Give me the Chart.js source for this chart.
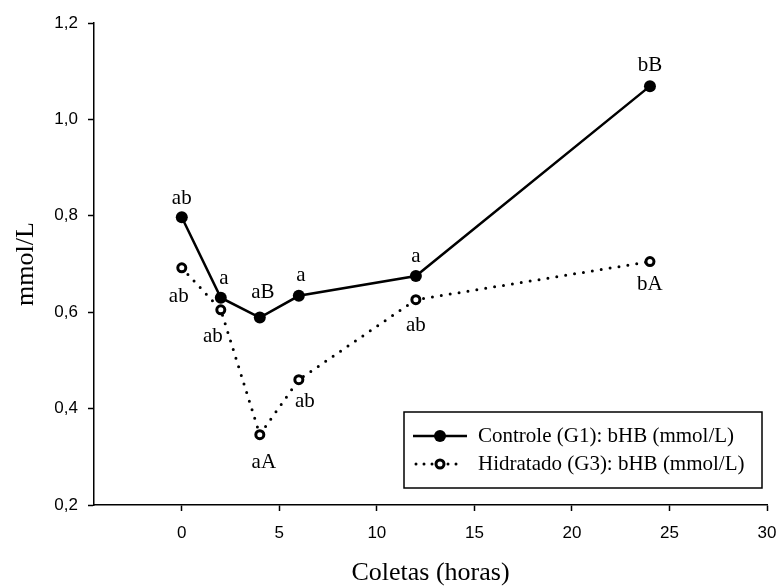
<!DOCTYPE html>
<html>
<head>
<meta charset="utf-8">
<script src="https://cdn.jsdelivr.net/npm/chart.js@4.4.0/dist/chart.umd.min.js"></script>
<style>
  html, body { margin: 0; padding: 0; background: #fff; }
  #wrap { width: 778px; height: 586px; }
</style>
</head>
<body>
<div id="wrap"><canvas id="chart" width="778" height="586"></canvas></div>
<script>
// data
const horas = [0, 2, 4, 6, 12, 24];
const controle = [0.797, 0.630, 0.589, 0.634, 0.675, 1.069];
const hidratado = [0.692, 0.605, 0.346, 0.460, 0.626, 0.705];
const letrasControle = ['ab', 'a', 'aB', 'a', 'a', 'bB'];
const letrasHidratado = ['ab', 'ab', 'aA', 'ab', 'ab', 'bA'];
const xTicks = [0, 5, 10, 15, 20, 25, 30];
const yTicks = [0.2, 0.4, 0.6, 0.8, 1.0, 1.2];
const legendLabels = ['Controle (G1): bHB (mmol/L)', 'Hidratado (G3): bHB (mmol/L)'];

// label nudges (pixels) around each point
const offControle = [[0, -19], [3, -19], [3, -25], [2, -20], [0, -20], [0, -21]];
const offHidratado = [[-3, 29], [-8, 27], [4, 28], [6, 22], [0, 26], [0, 23]];

const serif = '"Liberation Serif", "Times New Roman", serif';
const sans = '"Liberation Sans", Arial, sans-serif';

//draws the significance letters next to each marker
const letterPlugin = {
  id: 'letters',
  afterDatasetsDraw(chart) {
    const ctx = chart.ctx;
    ctx.save();
    ctx.font = '21px ' + serif;
    ctx.fillStyle = '#000';
    ctx.textAlign = 'center';
    ctx.textBaseline = 'middle';
    const sets = [[letrasControle, offControle], [letrasHidratado, offHidratado]];
    sets.forEach((s, i) => {
      chart.getDatasetMeta(i).data.forEach((pt, j) => {
        ctx.fillText(s[0][j], pt.x + s[1][j][0], pt.y + s[1][j][1]);
      });
    });
    ctx.restore();
  }
};

//boxed legend in the lower right corner
const legendPlugin = {
  id: 'boxLegend',
  afterDraw(chart) {
    const ctx = chart.ctx;
    const a = chart.chartArea;
    const x0 = a.right - 363, y0 = a.bottom - 93, w = 358, h = 76;
    ctx.save();
    ctx.strokeStyle = '#000';
    ctx.lineWidth = 1.5;
    ctx.strokeRect(x0, y0, w, h);
    ctx.font = '21px ' + serif;
    ctx.fillStyle = '#000';
    ctx.textBaseline = 'middle';
    const rows = [y0 + 24, y0 + 52];
    // solid line sample
    ctx.lineWidth = 2.5;
    ctx.beginPath();
    ctx.moveTo(x0 + 9, rows[0]);
    ctx.lineTo(x0 + 63, rows[0]);
    ctx.stroke();
    ctx.beginPath();
    ctx.arc(x0 + 36, rows[0], 6, 0, Math.PI * 2);
    ctx.fill();
    // dotted line sample
    ctx.lineWidth = 3;
    ctx.lineCap = 'round';
    ctx.setLineDash([0, 8]);
    ctx.beginPath();
    ctx.moveTo(x0 + 12, rows[1]);
    ctx.lineTo(x0 + 60, rows[1]);
    ctx.stroke();
    ctx.setLineDash([]);
    ctx.fillStyle = '#fff';
    ctx.beginPath();
    ctx.arc(x0 + 36, rows[1], 4, 0, Math.PI * 2);
    ctx.fill();
    ctx.stroke();
    ctx.fillStyle = '#000';
    ctx.fillText(legendLabels[0], x0 + 74, rows[0]);
    ctx.fillText(legendLabels[1], x0 + 74, rows[1]);
    ctx.restore();
  }
};

let lineChart = document.getElementById('chart').getContext('2d');

let chart = new Chart(lineChart, {
  type: 'line',
  data: {
    datasets: [{
      label: legendLabels[0],
      data: horas.map((h, i) => ({x: h, y: controle[i]})),
      borderColor: '#000',
      backgroundColor: '#000',
      borderWidth: 2.5,
      pointRadius: 6,
      pointBorderWidth: 0,
      pointBackgroundColor: '#000'
    }, {
      label: legendLabels[1],
      data: horas.map((h, i) => ({x: h, y: hidratado[i]})),
      borderColor: '#000',
      borderWidth: 3,
      borderDash: [0, 9],
      borderCapStyle: 'round',
      pointRadius: 4,
      pointBorderWidth: 3,
      pointBorderColor: '#000',
      pointBackgroundColor: '#fff'
    }]
  },
  options: {
    responsive: false,
    animation: false,
    layout: { padding: { top: 23, right: 11, left: 0, bottom: 0 } },
    plugins: {
      legend: { display: false },
      tooltip: { enabled: false }
    },
    scales: {
      x: {
        type: 'linear',
        min: -4.5,
        max: 30,
        afterBuildTicks: s => { s.ticks = xTicks.map(v => ({value: v})); },
        afterFit: s => { s.height = 81; s.paddingRight = 0; s.paddingLeft = 0; },
        grid: { drawOnChartArea: false, tickLength: 6, tickColor: '#000', tickWidth: 1.5 },
        border: { display: true, color: '#000', width: 1.5 },
        ticks: { color: '#000', padding: 12, font: { family: sans, size: 17 } },
        title: { display: true, text: 'Coletas (horas)', color: '#000', padding: { top: 0, bottom: 0 }, font: { family: serif, size: 26, lineHeight: 1 } }
      },
      y: {
        min: 0.2,
        max: 1.2,
        afterBuildTicks: s => { s.ticks = yTicks.map(v => ({value: v})); },
        afterFit: s => { s.width = 94; },
        grid: { drawOnChartArea: false, tickLength: 6, tickColor: '#000', tickWidth: 1.5 },
        border: { display: true, color: '#000', width: 1.5 },
        ticks: {
          color: '#000', padding: 10, font: { family: sans, size: 17 },
          callback: v => v.toFixed(1).replace('.', ',')
        },
        title: { display: true, text: 'mmol/L', color: '#000', padding: { top: 13, bottom: 0 }, font: { family: serif, size: 26, lineHeight: 1 } }
      }
    }
  },
  plugins: [letterPlugin, legendPlugin]
});
</script>
</body>
</html>
